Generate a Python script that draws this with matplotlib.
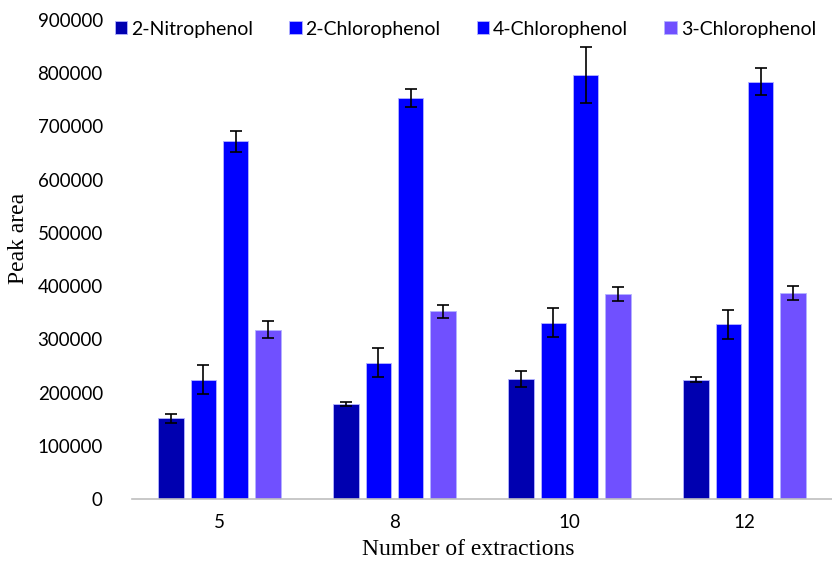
import numpy as np
import matplotlib.pyplot as plt

# data
extractions = ['5', '8', '10', '12']
series_names = ['2-Nitrophenol', '2-Chlorophenol', '4-Chlorophenol', '3-Chlorophenol']
nitro2 = [152000, 179000, 226000, 224000]
chloro2 = [224000, 256000, 331000, 328000]
chloro4 = [672000, 754000, 797000, 784000]
chloro3 = [318000, 353000, 385000, 387000]
nitro2_err = [8500, 4000, 15000, 5000]
chloro2_err = [27000, 27000, 27000, 27000]
chloro4_err = [20000, 16500, 52000, 25000]
chloro3_err = [16000, 12000, 13000, 13000]

values = [nitro2, chloro2, chloro4, chloro3]
errors = [nitro2_err, chloro2_err, chloro4_err, chloro3_err]
colors = ['#0000B0', '#0000FF', '#0000FF', '#7050FF']

fig = plt.figure(figsize=(8.32, 5.64), dpi=100)
ax = fig.add_axes([0.1587, 0.1152, 0.8413, 0.8493])

x = np.arange(len(extractions))
pitch = 0.184
width = 0.147
for i in range(4):
    ax.bar(x + (i - 1.5) * pitch, values[i], width, color=colors[i],
           edgecolor='#B4B4FF', linewidth=0.6, label=series_names[i],
           yerr=errors[i], capsize=4.5,
           error_kw=dict(ecolor='black', elinewidth=1.2, capthick=1.2))

ax.set_xlim(-0.5, 3.5)
ax.set_ylim(0, 900000)
ax.set_yticks(np.arange(0, 900001, 100000))
ax.set_xticks(x)
ax.set_xticklabels(extractions)
for lab in ax.get_xticklabels() + ax.get_yticklabels():
    lab.set_family('Lato')
    lab.set_fontsize(13.5)
ax.tick_params(axis='x', length=0, pad=11)
ax.tick_params(axis='y', length=0, pad=21)

for s in ['top', 'right', 'left']:
    ax.spines[s].set_visible(False)
ax.spines['bottom'].set_color('#BFBFBF')
ax.spines['bottom'].set_linewidth(1.2)

ax.set_xlabel('Number of extractions', family='Liberation Serif', fontsize=17)
ax.set_ylabel('Peak area', family='Liberation Serif', fontsize=17)
ax.xaxis.set_label_coords(0.481, -0.084)
ax.yaxis.set_label_coords(-0.147, 0.545)

leg = ax.legend(loc='upper left', bbox_to_anchor=(-0.05, 1.035), ncol=4, frameon=False,
                prop={'family': 'Lato', 'size': 14}, handlelength=0.65, handleheight=0.65,
                handletextpad=0.2, columnspacing=1.85)

fig.savefig('out.png', dpi=100)
